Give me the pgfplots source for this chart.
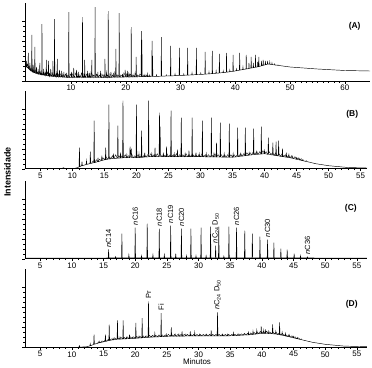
\documentclass[border=0pt]{standalone}
\usepackage{fontspec}
\setmainfont{Liberation Sans}
\usepackage{pgfplots}
\pgfplotsset{compat=1.18}
\newcommand{\lab}{\fontsize{7.5}{8}\selectfont}
\newcommand{\nC}{{\itshape n}C}
\begin{document}
\begin{tikzpicture}
\useasboundingbox (0,0) rectangle (372bp,-368bp);
\pgfplotsset{chrom/.style={
  scale only axis, height=78bp, ymin=0, ymax=78,
  axis x line*=bottom, axis y line*=left,
  axis line style={black, line width=0.5bp, -},
  ytick={0,20,40,60}, minor y tick num=3, yticklabels={},
  tick style={black, line width=0.4bp},
  major tick length=2.5bp, minor tick length=1.5bp, tick align=outside,
  /pgf/number format/assume math mode=true,
  xticklabel style={font=\fontsize{8}{9}\selectfont, inner sep=1.5bp},
  no markers,
  anchor=south west},
  cl/.style={black, line width=0.45bp, mark=none},
  gl/.style={black, line width=0.35bp, mark=none}}

% ---------- A ----------
\begin{axis}[chrom, at={(25bp,-81bp)}, width=345bp, xmin=1.6, xmax=64.6,
  xtick={10,20,...,60}, minor x tick num=9]
\addplot[gl] coordinates {(1.7,14.7)(1.8,18)(1.95,14)(2.05,17)(2.3,12.5)(2.4,15)(2.6,10.5)(2.7,13)(2.95,9.2)(3.0,12)(3.2,8.6)(3.25,11)(3.5,8)(3.55,11)(3.8,7.4)(3.85,9)(4.1,6.9)(4.15,10)(4.4,6.6)(4.45,9)(4.55,6.4)(4.6,8)(4.85,6.1)(4.9,9)(5.2,5.8)(5.25,9)(5.35,5.7)(5.4,8)(5.65,5.3)(5.7,9)(6.0,5)(6.05,8)(6.1,5)(6.15,7)(6.45,4.8)(6.5,8)(6.85,4.6)(6.9,8)(7.2,4.4)(7.25,7)(7.35,4.3)(7.4,9)(7.7,4.2)(7.75,7)(8.05,4)(8.1,7)(8.45,3.9)(8.5,7)(8.9,3.8)(8.95,7)(9.35,3.7)(9.4,6)(9.8,3.6)(9.85,7)(10.25,3.5)(10.3,7)(10.7,3.5)(10.75,8)(11.2,3.5)(11.25,7)(11.6,3.5)(11.65,6)(11.85,3.5)(11.9,8)(12.3,3.5)(12.35,7)(12.7,3.5)(12.75,7)(13.2,3.5)(13.25,7)(13.6,3.5)(13.65,9)(14.05,3.5)(14.1,6)(14.6,3.5)(14.65,7)(15.1,3.5)(15.15,6)(15.6,3.5)(15.65,7)(15.9,3.6)(15.95,6)(16.4,3.6)(16.45,9)(16.6,3.7)(16.65,6)(17.05,3.7)(17.1,7)(17.5,3.8)(17.55,6)(17.95,3.8)(18.0,9)(18.45,3.9)(18.5,6)(19.0,3.9)(19.05,6)(19.6,4)(19.65,8)(20.1,4)(20.15,7)(20.5,4)(20.55,8)(20.75,4.1)(20.8,7)(21.2,4.1)(21.25,6)(21.65,4.2)(21.7,8)(22.1,4.2)(22.15,6)(22.5,4.3)(22.55,7)(23.2,4.3)(23.25,6)(23.7,4.4)(23.75,6)(24.3,4.4)(24.35,6)(24.5,4.5)};
\addplot[cl] coordinates {(1.6,15)
(1.85,14.2)(1.9,20)(1.95,14)(2.15,13)(2.2,28)(2.25,12.5)(2.45,11.3)(2.5,18)(2.55,11)
(2.8,9.8)(2.85,46)(2.9,9.5)(3.05,9)(3.1,16)(3.15,8.8)(3.35,8.3)(3.4,34)(3.45,8.1)
(3.65,7.7)(3.7,14)(3.75,7.5)(3.95,7.1)(4.0,12)(4.05,7)(4.25,6.8)(4.3,18)(4.35,6.7)
(4.65,6.4)(4.7,57)(4.75,6.3)(4.95,6)(5.0,12)(5.05,6)(5.45,5.6)(5.5,21)(5.55,5.5)
(5.85,5.2)(5.9,20)(5.95,5.1)(6.25,4.9)(6.3,12)(6.35,4.8)(6.65,4.7)(6.7,20)(6.75,4.6)
(6.95,4.5)(7.0,62)(7.05,4.5)(7.45,4.3)(7.5,22)(7.55,4.3)(7.85,4.1)(7.9,11)(7.95,4.1)
(8.25,4)(8.3,10)(8.35,4)(8.65,3.9)(8.7,9)(8.75,3.9)(9.15,3.7)(9.2,8)(9.25,3.7)
(9.55,3.6)(9.6,69)(9.65,3.6)(10.05,3.5)(10.1,9)(10.15,3.5)(10.45,3.5)(10.5,13)(10.55,3.5)
(10.95,3.5)(11.0,11)(11.05,3.5)(11.35,3.5)(11.4,9)(11.45,3.5)(12.05,3.5)(12.1,64)(12.15,3.5)
(12.45,3.5)(12.5,21)(12.55,3.5)(12.95,3.5)(13.0,10)(13.05,3.5)(13.35,3.5)(13.4,8)(13.45,3.5)
(13.75,3.5)(13.8,21)(13.85,3.5)(14.35,3.5)(14.4,74)(14.45,3.5)(14.85,3.5)(14.9,9)(14.95,3.5)
(15.35,3.5)(15.4,10)(15.45,3.5)(16.15,3.6)(16.2,22)(16.25,3.6)(16.75,3.7)(16.8,70)(16.85,3.7)
(17.25,3.7)(17.3,9)(17.35,3.7)(17.75,3.8)(17.8,8)(17.85,3.8)(18.15,3.8)(18.2,32)(18.25,3.8)
(18.75,3.9)(18.8,68)(18.85,3.9)(19.35,3.9)(19.4,7)(19.45,3.9)(19.85,4)(19.9,11)(19.95,4)
(20.25,4)(20.3,10)(20.35,4)(20.95,4.1)(21.0,54)(21.05,4.1)(21.45,4.1)(21.5,6)(21.55,4.1)
(21.85,4.2)(21.9,24)(21.95,4.2)(22.8,4.3)(22.85,50)(22.9,4.3)(22.95,41)(23.0,4.3)
(23.45,4.3)(23.5,6)(23.55,4.4)(23.95,4.4)(24.0,7)(24.05,4.4)
(24.75,4.5)(24.8,40)(24.85,4.5)(24.9,25)(24.95,4.5)(25.55,4.6)(25.6,6)(25.65,4.6)
(26.45,4.8)(26.5,44)(26.55,4.8)(27.35,5)(27.4,6)(27.45,5)(28.15,5.1)(28.2,35)(28.25,5.1)
(28.95,5.3)(29.0,7)(29.05,5.3)(29.75,5.5)(29.8,33)(29.85,5.5)(30.55,5.7)(30.6,7)(30.65,5.7)
(31.25,5.9)(31.3,33)(31.35,5.9)(32.05,6.1)(32.1,8)(32.15,6.1)(32.85,6.4)(32.9,33)(32.95,6.4)
(33.65,6.6)(33.7,8)(33.75,6.6)(34.45,6.8)(34.5,29)(34.55,6.9)(35.15,7.1)(35.2,9)(35.25,7.1)
(35.75,7.4)(35.8,30)(35.85,7.4)(36.45,7.7)(36.5,10)(36.55,7.8)(37.05,8)(37.1,27)(37.15,8.1)
(37.75,8.4)(37.8,10)(37.85,8.4)(38.35,8.8)(38.4,28)(38.45,8.8)(38.95,9.2)(39.0,11)(39.05,9.3)
(39.55,9.7)(39.6,26)(39.65,9.7)(40.15,10.2)(40.2,12)(40.25,10.3)(40.75,10.8)(40.8,28)(40.85,10.9)
(41.35,11.4)(41.4,14)(41.45,11.5)(41.95,12)(42.0,26)(42.05,12)(42.45,12.5)(42.5,18)(42.55,12.6)
(42.85,12.9)(42.9,24)(42.95,13)(43.25,13.3)(43.3,18)(43.35,13.4)(43.65,13.7)(43.7,26)(43.75,13.8)
(44.05,14.1)(44.1,19)(44.15,14.2)(44.25,14.4)(44.3,24)(44.35,14.5)(44.75,15.1)(44.8,20)(44.85,15.3)
(45.05,15.6)(45.1,21)(45.15,15.7)(45.45,16.2)(45.5,20)(45.55,16.3)(45.85,16.8)(45.9,20)(45.95,16.9)
(46.25,16.8)(46.3,19)(46.35,16.7)(46.65,16.5)(46.7,18)(46.75,16.4)(47.15,16.1)(47.2,17)(47.25,16)
(47.75,15.7)(47.8,16)(47.85,15.6)(50,14)(55,12)(60,10.5)(64.6,10)};
\node[font=\bfseries\fontsize{8.5}{9}\selectfont] at (axis cs:61.8,55) {(A)};
\end{axis}

% ---------- B ----------
\begin{axis}[chrom, at={(25bp,-168.7bp)}, width=342bp, xmin=2.6, xmax=56.0,
  xtick={5,10,...,55}, minor x tick num=4]
\addplot[gl] coordinates {(13,5.5)(13.25,8)(13.5,6.2)(13.75,9)(14,7)(14.25,9.5)(14.5,8)(14.75,11)(15,9)(15.25,12)(15.5,9.5)(15.75,12)(16,10)(16.25,13)(16.5,10.2)(16.75,14)(17,10.5)(17.25,13)(17.5,10.7)(17.75,13)(18,11)(18.25,14)(18.5,11)(18.75,13)(19,11)(19.25,15)(19.5,11)(19.75,13)(20,11)(20.25,14)(20.5,11.2)(20.75,13)(21,11.5)(21.25,14)(21.5,11.7)(21.75,14)(22,12)(22.25,15)(22.5,12)(22.75,14)(23,12)(23.25,15)(23.5,12)(23.75,14)(24,12)(24.25,14)(24.5,12)(24.75,15)(25,12)(25.25,14)(25.5,12)(25.75,14)(26,12)(26.25,15)(26.5,12)(26.75,14)(27,12)(27.25,14)(27.5,12)(27.75,15)(28,12)(28.25,14)(28.5,12)(28.75,15)(29,12)(29.25,14)(29.5,12)(29.75,14)(30,12)(30.25,15)(30.5,11.9)(30.75,14)(31,11.9)(31.25,14)(31.5,11.8)(31.75,14)(32,11.8)(32.25,15)(32.5,11.7)(32.75,14)(33,11.7)(33.25,14)(33.5,11.6)(33.75,14)(34,11.6)(34.25,14)(34.5,11.5)(34.75,14)(35,11.5)(35.25,14)(35.5,11.9)(35.75,14)(36,12.2)(36.25,15)(36.5,12.6)(36.75,15)(37,13)(37.25,16)(37.5,13.5)(37.75,16)(38,14)(38.25,17)(38.5,14.2)(38.75,17)(39,14.5)(39.25,17)(39.5,14.7)(39.75,18)(40,15)(40.25,17)(40.5,14.5)(40.75,17)(41,14)(41.25,16)(41.5,13.5)(41.75,16)(42,13)(42.25,15)(42.5,12.5)(42.75,15)(43,12)(43.25,14)(43.5,11.5)(43.75,13)(44,11)(44.25,13)(44.5,10.2)(44.75,12)(45,9.5)(45.25,11)(45.5,8.7)(45.75,10)(46,8)};
\addplot[cl] coordinates {(2.6,0)(8.3,0)(8.6,1)(8.9,0)(10.3,0.3)(10.8,1)
(11.04,1.9)(11.1,21)(11.16,2)(11.44,2.9)(11.5,7)(11.56,3)(12.14,4.2)(12.2,8)(12.26,4.3)
(12.74,5.1)(12.8,17)(12.86,5.3)(13.34,6)(13.4,48)(13.46,6.1)(13.94,7)(14.0,11)(14.06,7.1)
(14.54,8.1)(14.6,13)(14.66,8.3)(15.14,9.1)(15.2,21)(15.26,9.2)(15.64,9.7)(15.7,64)(15.76,9.7)
(16.34,10.2)(16.4,15)(16.46,10.2)(17.04,10.5)(17.1,43)(17.16,10.6)(17.44,10.7)(17.5,16)(17.56,10.8)
(17.84,10.9)(17.9,68)(17.96,11)(18.44,11)(18.5,14)(18.56,11)(18.94,11)(19.0,22)(19.1,13)(19.2,20)(19.26,11)
(19.94,11)(20.0,64)(20.06,11)(20.34,11.2)(20.4,15)(20.46,11.2)(20.74,11.4)(20.8,38)(20.86,11.4)
(21.24,11.6)(21.3,16)(21.36,11.7)(21.84,11.9)(21.9,68)(21.96,12)(22.34,12)(22.4,15)(22.46,12)
(22.84,12)(22.9,21)(22.96,12)(23.54,12)(23.6,56)(23.65,14)(23.7,42)(23.76,12)
(24.14,12)(24.2,16)(24.26,12)(24.64,12)(24.7,22)(24.76,12)(25.34,12)(25.4,58)(25.46,12)
(25.84,12)(25.9,15)(25.96,12)(26.34,12)(26.4,19)(26.46,12)(26.94,12)(27.0,51)(27.06,12)
(27.54,12)(27.6,15)(27.66,12)(28.14,12)(28.2,18)(28.26,12)(28.64,12)(28.7,51)(28.76,12)
(29.24,12)(29.3,16)(29.36,12)(29.74,12)(29.8,15)(29.86,12)(30.24,12)(30.3,48)(30.36,12)
(30.84,11.9)(30.9,15)(30.96,11.9)(31.64,11.8)(31.7,51)(31.76,11.8)(32.04,11.8)(32.1,15)(32.16,11.8)
(32.44,11.8)(32.5,26)(32.56,11.7)(33.04,11.7)(33.1,46)(33.16,11.7)(33.64,11.6)(33.7,15)(33.76,11.6)
(34.44,11.6)(34.5,45)(34.56,11.5)(35.04,11.6)(35.1,15)(35.16,11.6)(35.74,12)(35.8,41)(35.86,12.1)
(36.24,12.5)(36.3,15)(36.36,12.5)(36.94,13)(37.0,41)(37.06,13)(37.54,13.6)(37.6,16)(37.66,13.6)
(38.24,14.1)(38.3,40)(38.36,14.2)(38.74,14.4)(38.8,17)(38.86,14.4)(39.44,14.7)(39.5,42)(39.56,14.8)
(39.94,15)(40.0,18)(40.06,15)(40.54,14.4)(40.6,31)(40.66,14.3)(41.24,13.7)(41.3,26)(41.36,13.6)
(41.74,13.2)(41.8,27)(41.86,13.1)(42.14,12.8)(42.2,28)(42.26,12.7)(42.74,12.2)(42.8,20)(42.86,12.1)
(43.34,11.6)(43.4,16)(43.46,11.5)(43.74,11.2)(43.8,15)(43.86,11.1)(44.24,10.6)(44.3,12.5)(44.36,10.5)
(44.94,9.5)(45.0,11)(45.06,9.4)(45.44,8.8)(45.5,10)(45.56,8.7)(45.94,8)(46.0,9)(46.06,7.9)
(46.44,7.3)(46.5,8)(46.56,7.2)(48,5)(50,3)(53,1.2)(56,0.7)};
\node[font=\bfseries\fontsize{8.5}{9}\selectfont] at (axis cs:53.7,54.7) {(B)};
\end{axis}

% ---------- C ----------
\begin{axis}[chrom, at={(25bp,-258.7bp)}, width=342bp, xmin=2.6, xmax=56.6,
  xtick={5,10,...,55}, minor x tick num=4]
\addplot[cl] coordinates {(2.6,0.5)(15,0.6)
(15.74,0.8)(15.8,9.3)(15.86,0.8)(16.84,0.8)(16.9,2)(16.96,0.8)(17.84,0.8)(17.9,25)(17.96,0.8)
(18.94,0.8)(19.0,4)(19.06,0.8)(19.94,0.8)(20.0,31)(20.06,0.8)(20.94,0.8)(21.0,3)(21.06,0.8)
(21.84,0.8)(21.9,35)(21.96,0.8)(22.74,0.8)(22.8,4)(22.86,0.8)(23.74,0.8)(23.8,30)(23.86,0.8)
(24.54,0.8)(24.6,4)(24.66,0.8)(25.54,0.8)(25.6,33)(25.66,0.8)(26.34,0.8)(26.4,5)(26.46,0.8)
(27.24,0.8)(27.3,30)(27.36,0.8)(28.04,0.8)(28.1,3)(28.16,0.8)(28.74,0.8)(28.8,30)(28.86,0.8)
(29.54,0.8)(29.6,3)(29.66,0.8)(30.34,0.8)(30.4,31)(30.46,0.8)(31.14,0.8)(31.2,3)(31.26,0.8)
(31.84,0.8)(31.9,32)(31.96,0.8)(32.64,0.8)(32.7,13)(32.76,0.8)(33.14,0.8)(33.2,32)(33.26,0.8)
(33.94,0.8)(34.0,2.5)(34.06,0.8)(34.74,0.8)(34.8,32)(34.86,0.8)(35.94,0.8)(36.0,31)(36.06,0.8)
(37.24,0.8)(37.3,28)(37.36,0.8)(38.44,0.8)(38.5,25)(38.56,0.8)(39.64,0.8)(39.7,22)(39.76,0.8)
(40.84,0.8)(40.9,19)(40.96,0.8)(41.84,0.8)(41.9,16)(41.96,0.8)(42.94,0.8)(43.0,10)(43.06,0.8)
(43.94,0.8)(44.0,9)(44.06,0.8)(45.04,0.8)(45.1,5)(45.16,0.8)(46.04,0.8)(46.1,3)(46.16,0.8)
(47.14,0.8)(47.2,1.8)(47.26,0.8)(50,0.6)(56.6,0.5)};
\begin{scope}[every node/.style={rotate=90, anchor=west, inner sep=1bp, font=\lab}]
\node at (axis cs:15.8,10.3) {\nC14};
\node at (axis cs:20.0,32.5) {\nC16};
\node at (axis cs:23.8,31.5) {\nC18};
\node at (axis cs:25.6,34.5) {\nC19};
\node at (axis cs:27.3,31.5) {\nC20};
\node at (axis cs:32.7,14.5) {\nC\textsubscript{24} D\textsubscript{50}};
\node at (axis cs:36.0,32.5) {\nC26};
\node at (axis cs:40.9,20.5) {\nC30};
\node at (axis cs:47.2,3) {\nC36};
\end{scope}
\node[font=\bfseries\fontsize{8.5}{9}\selectfont] at (axis cs:54.05,50.4) {(C)};
\end{axis}

% ---------- D ----------
\begin{axis}[chrom, at={(25bp,-347.3bp)}, width=342bp, xmin=2.6, xmax=56.6,
  xtick={5,10,...,55}, minor x tick num=4]
\addplot[gl] coordinates {(14,4)(14.25,5.5)(14.5,4.8)(14.75,6.5)(15,5.5)(15.25,7)(15.5,6.2)(15.75,8)(16,7)(16.25,8.5)(16.5,7.5)(16.75,9.5)(17,8)(17.25,9.5)(17.5,8.2)(17.75,10)(18,8.3)(18.25,10)(18.5,8.5)(18.75,10.5)(19,8.7)(19.25,10.5)(19.5,8.8)(19.75,10.5)(20,9)(20.25,11)(20.5,9.2)(20.75,11)(21,9.5)(21.25,11.5)(21.5,9.7)(21.75,11.5)(22,10)(22.25,12)(22.5,10.2)(22.75,12)(23,10.3)(23.25,12)(23.5,10.5)(23.75,12.5)(24,10.7)(24.25,12.5)(24.5,10.8)(24.75,12.5)(25,11)(25.25,13)(25.5,11)(25.75,13)(26,11.1)(26.25,13)(26.5,11.1)(26.75,13)(27,11.2)(27.25,13)(27.5,11.2)(27.75,13)(28,11.3)(28.25,13)(28.5,11.3)(28.75,13)(29,11.4)(29.25,13)(29.5,11.4)(29.75,13)(30,11.5)(30.25,13)(30.5,11.5)(30.75,13)(31,11.5)(31.25,13)(31.5,11.5)(31.75,13)(32,11.5)(32.25,13)(32.5,11.5)(32.75,13)(33,11.5)(33.25,13)(33.5,11.5)(33.75,13)(34,11.5)(34.25,13)(34.5,11.5)(34.75,13)(35,11.5)(35.25,13)(35.5,11.6)(35.75,13)(36,11.8)(36.25,13.5)(36.5,12)(36.75,13.5)(37,12.2)(37.25,14)(37.5,12.3)(37.75,14)(38,12.5)(38.25,14.5)(38.5,12.9)(38.75,15)(39,13.2)(39.25,15.5)(39.5,13.6)(39.75,16)(40,14)(40.25,16)(40.5,13.9)(40.75,16)(41,13.75)(41.25,15.5)(41.5,13.6)(41.75,15.5)(42,13.5)(42.25,15)(42.5,12.9)(42.75,14.5)(43,12.3)(43.25,14)(43.5,11.6)(43.75,13)(44,11)(44.25,12.5)(44.5,10.2)(44.75,11.5)(45,9.5)(45.25,10.5)(45.5,8.7)(45.75,9.5)(46,8)};
\addplot[cl] coordinates {(2.6,0)(10.9,0)(11.14,0.2)(11.2,1.5)(11.26,0.2)(12.3,0.5)
(12.84,1.4)(12.9,3.5)(12.96,1.6)(13.44,2.9)(13.5,12.7)(13.56,3.1)(14.24,4.4)(14.3,6)(14.36,4.5)
(15.24,5.9)(15.3,12.7)(15.36,6)(15.84,6.8)(15.9,22.7)(15.96,6.9)(16.44,7.5)(16.5,9)(16.56,7.5)
(17.14,8.1)(17.2,27)(17.26,8.1)(17.54,8.2)(17.6,10)(17.66,8.2)(18.04,8.4)(18.1,27)(18.16,8.4)
(18.54,8.5)(18.6,10)(18.66,8.5)(19.04,8.7)(19.1,12.7)(19.16,8.7)(19.54,8.9)(19.6,10)(19.66,8.9)
(20.04,9)(20.1,24.3)(20.16,9.1)(20.54,9.3)(20.6,11)(20.66,9.3)(21.04,9.5)(21.1,29.3)(21.16,9.6)
(21.54,9.8)(21.6,11)(21.66,9.8)(22.04,10)(22.1,46)(22.16,10)(22.54,10.2)(22.6,11)(22.66,10.2)
(23.04,10.4)(23.1,14)(23.16,10.4)(23.54,10.5)(23.6,11)(23.66,10.5)(24.04,10.7)(24.1,34.3)(24.16,10.7)
(24.84,11)(24.9,13)(24.96,11)(25.64,11.1)(25.7,20)(25.76,11.1)(26.24,11.1)(26.3,13)(26.36,11.1)
(26.84,11.2)(26.9,13)(26.96,11.2)(27.34,11.2)(27.4,16)(27.46,11.2)(27.94,11.3)(28.0,13)(28.06,11.3)
(28.64,11.4)(28.7,16)(28.76,11.4)(29.34,11.4)(29.4,15)(29.46,11.4)(30.14,11.5)(30.2,13)(30.26,11.5)
(31.14,11.5)(31.2,13)(31.26,11.5)(31.94,11.5)(32.0,17)(32.06,11.5)(32.94,11.5)(33.0,35)(33.06,11.5)
(33.74,11.5)(33.8,13)(33.86,11.5)(34.54,11.5)(34.6,13)(34.66,11.5)(35.44,11.6)(35.5,14.5)(35.56,11.7)
(36.34,12)(36.4,13)(36.46,12)(37.14,12.2)(37.2,13)(37.26,12.3)(37.84,12.5)(37.9,15)(37.96,12.5)
(38.54,12.9)(38.6,16)(38.66,13)(39.14,13.4)(39.2,17)(39.26,13.4)(39.84,13.9)(39.9,21)(39.96,13.9)
(40.24,13.9)(40.3,17)(40.36,13.9)(40.54,13.9)(40.6,18)(40.66,13.8)(40.94,13.8)(41.0,16)(41.06,13.7)
(41.64,13.6)(41.7,23)(41.76,13.5)(42.14,13.3)(42.2,16)(42.26,13.2)(42.74,12.7)(42.8,25)(42.86,12.5)
(43.14,12.2)(43.2,15)(43.26,12)(43.64,11.5)(43.7,14)(43.76,11.3)(44.24,10.6)(44.3,12.5)(44.36,10.5)
(44.94,9.6)(45.0,10.8)(45.06,9.4)(45.54,8.7)(45.6,9.8)(45.66,8.5)(46.14,7.8)(46.2,8.5)(46.26,7.6)
(48,5)(50,3)(53,1.2)(56.6,0.6)};
\begin{scope}[every node/.style={rotate=90, anchor=west, inner sep=1bp, font=\lab}]
\node at (axis cs:22.1,47.5) {Pr};
\node at (axis cs:24.1,35.8) {Fi};
\node at (axis cs:33.0,36.5) {\nC\textsubscript{24} D\textsubscript{50}};
\end{scope}
\node[font=\bfseries\fontsize{8.5}{9}\selectfont] at (axis cs:54.2,43.3) {(D)};
\end{axis}

\node[rotate=90, font=\bfseries\fontsize{9}{10}\selectfont] at (7.5bp,-172bp) {Intensidade};
\node[font=\fontsize{8}{9}\selectfont] at (197bp,-362bp) {Minutos};
\end{tikzpicture}
\end{document}
